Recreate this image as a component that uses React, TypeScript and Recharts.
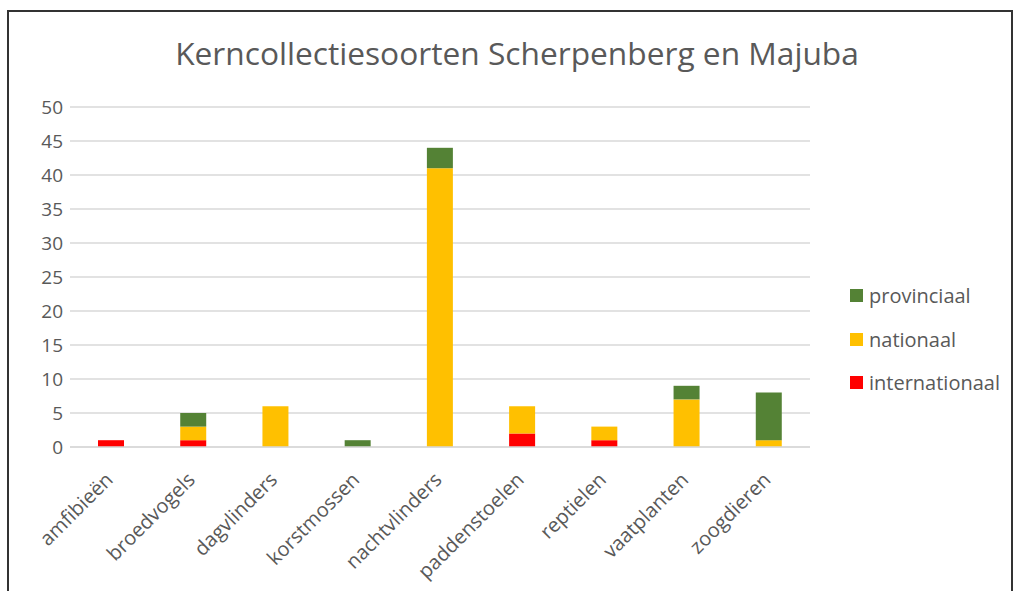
import React from 'react';
import { BarChart, Bar, XAxis, YAxis, CartesianGrid } from 'recharts';

const categories = ['amfibieën', 'broedvogels', 'dagvlinders', 'korstmossen', 'nachtvlinders', 'paddenstoelen', 'reptielen', 'vaatplanten', 'zoogdieren'];
const internationaal = [1, 1, 0, 0, 0, 2, 1, 0, 0];
const nationaal = [0, 2, 6, 0, 41, 4, 2, 7, 1];
const provinciaal = [0, 2, 0, 1, 3, 0, 0, 2, 7];
const yTicks = [0, 5, 10, 15, 20, 25, 30, 35, 40, 45, 50];

const data = categories.map((name, i) => ({
  name,
  internationaal: internationaal[i],
  nationaal: nationaal[i],
  provinciaal: provinciaal[i],
}));

const FONT = '"Open Sans", sans-serif';
const GREY = '#595959';

const series = [
  { key: 'provinciaal', color: '#548235' },
  { key: 'nationaal', color: '#FFC000' },
  { key: 'internationaal', color: '#FF0000' },
];

function XTick(props: any) {
  const { x, y, payload } = props;
  return (
    <g transform={`translate(${x + 3},${y + 26})`}>
      <text transform="rotate(-45)" textAnchor="end" fontSize={20} fontFamily={FONT} fill={GREY}>
        {payload.value}
      </text>
    </g>
  );
}

function LegendBox() {
  return (
    <div style={{ position: 'absolute', left: 850, top: 274, fontFamily: FONT, fontSize: 20, color: GREY }}>
      {series.map((s) => (
        <div key={s.key} style={{ height: 43.5, display: 'flex', alignItems: 'center' }}>
          <span style={{ width: 13, height: 13, background: s.color, display: 'inline-block', marginRight: 6 }} />
          <span>{s.key}</span>
        </div>
      ))}
    </div>
  );
}

export default function App() {
  return (
    <div style={{ position: 'absolute', left: 0, top: 0, width: 1017, height: 591, overflow: 'hidden', background: '#fff' }}>
      <div style={{ position: 'absolute', left: 7, top: 10, width: 1006, height: 620, border: '2px solid #333', boxSizing: 'border-box' }} />
      <svg style={{ position: 'absolute', left: 0, top: 0 }} width={1017} height={100}>
        <text x={517} y={65} textAnchor="middle" fontFamily={FONT} fontSize={31.7} fill={GREY}>
          Kerncollectiesoorten Scherpenberg en Majuba
        </text>
      </svg>
      <div style={{ position: 'absolute', left: 0, top: 0 }}>
        <BarChart width={1017} height={591} data={data} margin={{ top: 107, right: 207, bottom: 0, left: 0 }}>
          <CartesianGrid vertical={false} stroke="#d9d9d9" strokeWidth={1.5} />
          <XAxis
            dataKey="name"
            height={144}
            interval={0}
            tickLine={false}
            axisLine={{ stroke: '#d9d9d9', strokeWidth: 1.5 }}
            tick={<XTick />}
          />
          <YAxis
            width={70}
            domain={[0, 50]}
            ticks={yTicks}
            interval={0}
            axisLine={false}
            tickLine={false}
            tickSize={0}
            tickMargin={7}
            tick={{ fontSize: 19, fontFamily: FONT, fill: GREY }}
          />
          <Bar dataKey="internationaal" stackId="a" fill="#FF0000" barSize={26} isAnimationActive={false} />
          <Bar dataKey="nationaal" stackId="a" fill="#FFC000" barSize={26} isAnimationActive={false} />
          <Bar dataKey="provinciaal" stackId="a" fill="#548235" barSize={26} isAnimationActive={false} />
        </BarChart>
      </div>
      <LegendBox />
    </div>
  );
}
